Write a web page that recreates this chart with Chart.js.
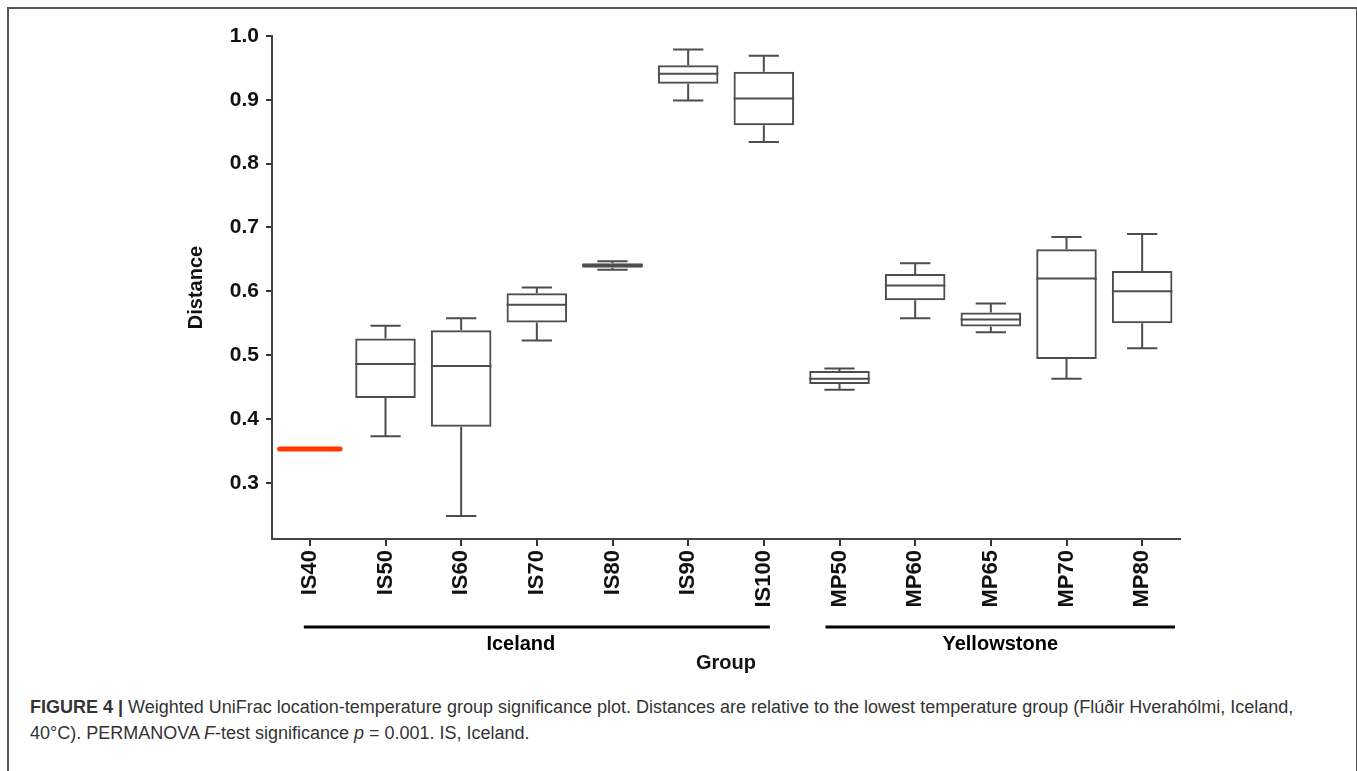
<!DOCTYPE html>
<html>
<head>
<meta charset="utf-8">
<script src="https://cdn.jsdelivr.net/npm/chart.js"></script>
<style>
    body { margin: 0; background: #fff; width: 1357px; height: 771px; overflow: hidden; position: relative; }
    #frame { position: absolute; left: 7px; top: 7px; width: 1347px; height: 764px; border: 2px solid #555; border-bottom: none; }
    #wrap { position: absolute; left: 0; top: 0; width: 1357px; height: 690px; }
    #caption { position: absolute; left: 30px; top: 694px; width: 1300px; font-family: "Liberation Sans", Arial, sans-serif; font-size: 18px; line-height: 26px; color: #333; }
</style>
</head>
<body>
<div id="frame"></div>
<div id="wrap"><canvas id="boxChart" width="1357" height="690"></canvas></div>
<div id="caption"><b>FIGURE 4 |</b> Weighted UniFrac location-temperature group significance plot. Distances are relative to the lowest temperature group (Flúðir Hverahólmi, Iceland, 40°C). PERMANOVA <i>F</i>-test significance <i>p</i> = 0.001. IS, Iceland.</div>

<script>
// Groups and their box-plot values
const groups = ["IS40", "IS50", "IS60", "IS70", "IS80", "IS90", "IS100", "MP50", "MP60", "MP65", "MP70", "MP80"];
const whiskerMin = [0.353, 0.373, 0.248, 0.523, 0.634, 0.899, 0.834, 0.446, 0.558, 0.536, 0.463, 0.511];
const quartile1  = [0.353, 0.433, 0.388, 0.551, 0.637, 0.925, 0.860, 0.455, 0.586, 0.545, 0.494, 0.550];
const medians    = [0.353, 0.486, 0.483, 0.579, 0.641, 0.941, 0.902, 0.463, 0.609, 0.556, 0.620, 0.600];
const quartile3  = [0.353, 0.526, 0.539, 0.597, 0.644, 0.954, 0.944, 0.475, 0.627, 0.567, 0.666, 0.632];
const whiskerMax = [0.353, 0.546, 0.558, 0.606, 0.647, 0.979, 0.969, 0.479, 0.644, 0.581, 0.685, 0.690];
const yTicks = [0.3, 0.4, 0.5, 0.6, 0.7, 0.8, 0.9, 1.0];

// Location groups under the axis (first and last category index)
const locationNames = ["Iceland", "Yellowstone"];
const locationFirst = [0, 7];
const locationLast = [6, 11];

const boxColor = "#4d4d4d";
const referenceColor = "#ff3a00";
const fontFamily = "'Liberation Sans', Arial, Helvetica, sans-serif";

// Whiskers, medians and the group lines are drawn with the chart scales
const boxPlotExtras = {
    id: "boxPlotExtras",
    afterDatasetsDraw(chart) {
        const ctx = chart.ctx;
        const x = chart.scales.x;
        const y = chart.scales.y;
        const bars = chart.getDatasetMeta(0).data;

        ctx.save();
        groups.forEach((g, i) => {
            const cx = x.getPixelForValue(i);
            const half = bars[i].width / 2;
            const cap = half / 2;

            if (i === 0) {
                // lowest temperature group is the reference: single red line
                ctx.strokeStyle = referenceColor;
                ctx.lineWidth = 5;
                ctx.lineCap = "round";
                ctx.beginPath();
                ctx.moveTo(cx - half, y.getPixelForValue(medians[i]));
                ctx.lineTo(cx + half, y.getPixelForValue(medians[i]));
                ctx.stroke();
                ctx.lineCap = "butt";
                return;
            }

            ctx.strokeStyle = boxColor;
            ctx.lineWidth = 2;
            ctx.beginPath();
            // upper whisker
            ctx.moveTo(cx, y.getPixelForValue(quartile3[i]));
            ctx.lineTo(cx, y.getPixelForValue(whiskerMax[i]));
            ctx.moveTo(cx - cap, y.getPixelForValue(whiskerMax[i]));
            ctx.lineTo(cx + cap, y.getPixelForValue(whiskerMax[i]));
            // lower whisker
            ctx.moveTo(cx, y.getPixelForValue(quartile1[i]));
            ctx.lineTo(cx, y.getPixelForValue(whiskerMin[i]));
            ctx.moveTo(cx - cap, y.getPixelForValue(whiskerMin[i]));
            ctx.lineTo(cx + cap, y.getPixelForValue(whiskerMin[i]));
            // median
            ctx.moveTo(cx - half, y.getPixelForValue(medians[i]));
            ctx.lineTo(cx + half, y.getPixelForValue(medians[i]));
            ctx.stroke();
        });

        // location bars and names
        const lineY = 627;
        ctx.strokeStyle = "#000";
        ctx.fillStyle = "#000";
        ctx.lineWidth = 3;
        ctx.font = "bold 20px " + fontFamily;
        ctx.textAlign = "center";
        ctx.textBaseline = "middle";
        locationNames.forEach((name, k) => {
            const start = x.getPixelForValue(locationFirst[k]) - (k === 0 ? 6 : 14);
            const end = k === 0 ? x.getPixelForValue(locationLast[k]) + 6 : chart.chartArea.right - 5;
            ctx.beginPath();
            ctx.moveTo(start, lineY);
            ctx.lineTo(end, lineY);
            ctx.stroke();
            ctx.fillText(name, (start + end) / 2 - (k === 0 ? 16 : 0), lineY + 17);
        });
        ctx.restore();
    }
};

const ctxBox = document.getElementById("boxChart").getContext("2d");
window.boxChart = new Chart(ctxBox, {
    type: "bar",
    data: {
        labels: groups,
        datasets: [{
            label: "Distance",
            data: groups.map((g, i) => [quartile1[i], quartile3[i]]),
            backgroundColor: "rgba(255,255,255,0)",
            borderColor: boxColor,
            borderWidth: 2,
            borderSkipped: false,
            barPercentage: 0.8,
            categoryPercentage: 1.0
        }]
    },
    options: {
        responsive: false,
        animation: false,
        layout: { padding: { top: 36, right: 177, left: 184, bottom: 15 } },
        plugins: {
            legend: { display: false },
            tooltip: { enabled: false }
        },
        scales: {
            x: {
                offset: true,
                grid: { display: true, drawOnChartArea: false, offset: false, tickLength: 7, color: "#333", lineWidth: 2 },
                border: { color: "#444", width: 2 },
                ticks: {
                    minRotation: 90,
                    maxRotation: 90,
                    autoSkip: false,
                    padding: 4,
                    color: "#111",
                    font: { family: fontFamily, size: 22, weight: "bold" }
                },
                title: {
                    display: true,
                    text: "Group",
                    color: "#111",
                    padding: 0,
                    font: { family: fontFamily, size: 20, weight: "bold" }
                },
                afterFit(scale) { scale.height = 136; }
            },
            y: {
                min: 0.212,
                max: 1.0,
                grid: { display: true, drawOnChartArea: false, tickLength: 6, color: "#333", lineWidth: 2 },
                border: { color: "#444", width: 2 },
                ticks: {
                    padding: 7,
                    color: "#111",
                    font: { family: fontFamily, size: 21, weight: "bold" },
                    callback: (v) => v.toFixed(1)
                },
                afterBuildTicks(scale) { scale.ticks = yTicks.map(v => ({ value: v })); },
                title: {
                    display: true,
                    text: "Distance",
                    color: "#111",
                    padding: 0,
                    font: { family: fontFamily, size: 20, weight: "bold" }
                },
                afterFit(scale) { scale.width = 88; }
            }
        }
    },
    plugins: [boxPlotExtras]
});
</script>
</body>
</html>
